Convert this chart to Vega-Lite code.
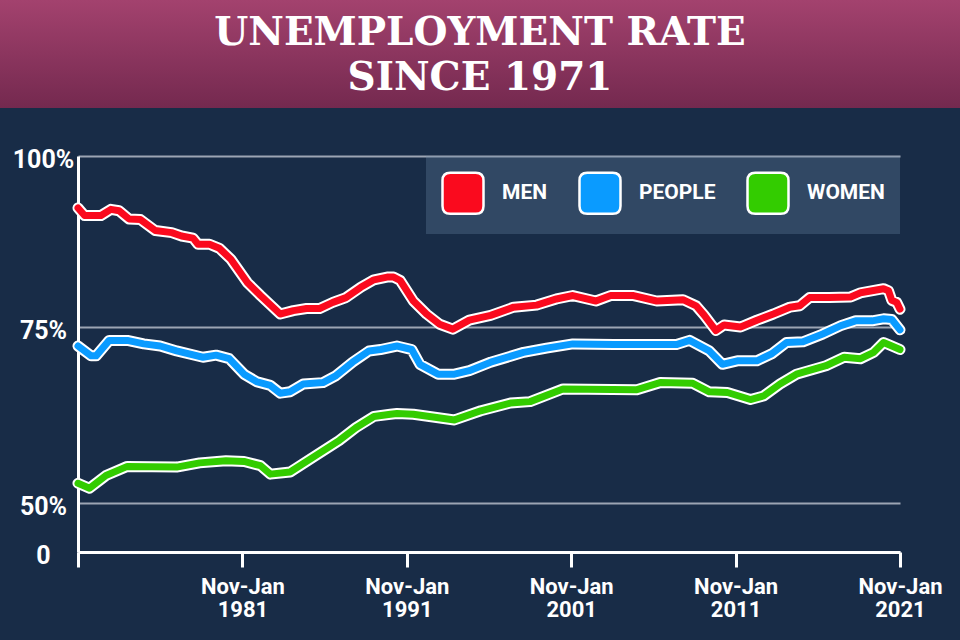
{
  "$schema": "https://vega.github.io/schema/vega-lite/v6.json",
  "background": "#182c47",
  "padding": {"left": 0, "top": 0, "right": 0, "bottom": 30},
  "spacing": 39,
  "resolve": {"scale": {"color": "independent"}, "legend": {"color": "independent"}},
  "config": {"view": {"stroke": null}},
  "vconcat": [
    {
      "width": 960,
      "height": 108,
      "view": {"stroke": null, "fill": {"gradient": "linear", "x1": 0, "y1": 0, "x2": 0, "y2": 1, "stops": [{"offset": 0, "color": "#a3426e"}, {"offset": 1, "color": "#74294f"}]}},
      "data": {"values": [{"t": "UNEMPLOYMENT RATE\nSINCE 1971"}]},
      "mark": {"type": "text", "font": "DejaVu Serif", "fontWeight": "bold", "fontSize": 39, "lineHeight": 45, "lineBreak": "\n", "color": "white", "align": "center", "baseline": "middle", "dy": -21},
      "encoding": {"text": {"field": "t", "type": "nominal"}}
    },
    {
      "width": 900,
      "height": 396,
      "data": {"values": [
        {"year": 1971.0, "rate": 92.4, "series": "MEN"},
        {"year": 1971.4, "rate": 91.3, "series": "MEN"},
        {"year": 1972.4, "rate": 91.3, "series": "MEN"},
        {"year": 1973.0, "rate": 92.2, "series": "MEN"},
        {"year": 1973.5, "rate": 92.0, "series": "MEN"},
        {"year": 1974.1, "rate": 90.8, "series": "MEN"},
        {"year": 1974.8, "rate": 90.7, "series": "MEN"},
        {"year": 1975.7, "rate": 89.1, "series": "MEN"},
        {"year": 1976.7, "rate": 88.8, "series": "MEN"},
        {"year": 1977.3, "rate": 88.3, "series": "MEN"},
        {"year": 1978.0, "rate": 88.0, "series": "MEN"},
        {"year": 1978.3, "rate": 87.1, "series": "MEN"},
        {"year": 1979.0, "rate": 87.1, "series": "MEN"},
        {"year": 1979.6, "rate": 86.5, "series": "MEN"},
        {"year": 1980.3, "rate": 84.9, "series": "MEN"},
        {"year": 1981.3, "rate": 81.5, "series": "MEN"},
        {"year": 1982.1, "rate": 79.6, "series": "MEN"},
        {"year": 1983.3, "rate": 76.9, "series": "MEN"},
        {"year": 1984.1, "rate": 77.4, "series": "MEN"},
        {"year": 1984.9, "rate": 77.7, "series": "MEN"},
        {"year": 1985.7, "rate": 77.7, "series": "MEN"},
        {"year": 1986.5, "rate": 78.6, "series": "MEN"},
        {"year": 1987.3, "rate": 79.3, "series": "MEN"},
        {"year": 1988.2, "rate": 80.8, "series": "MEN"},
        {"year": 1989.0, "rate": 81.9, "series": "MEN"},
        {"year": 1989.8, "rate": 82.3, "series": "MEN"},
        {"year": 1990.2, "rate": 82.3, "series": "MEN"},
        {"year": 1990.6, "rate": 81.8, "series": "MEN"},
        {"year": 1991.4, "rate": 78.8, "series": "MEN"},
        {"year": 1992.2, "rate": 76.9, "series": "MEN"},
        {"year": 1993.0, "rate": 75.4, "series": "MEN"},
        {"year": 1993.8, "rate": 74.7, "series": "MEN"},
        {"year": 1994.8, "rate": 76.0, "series": "MEN"},
        {"year": 1996.1, "rate": 76.7, "series": "MEN"},
        {"year": 1997.5, "rate": 77.9, "series": "MEN"},
        {"year": 1998.9, "rate": 78.2, "series": "MEN"},
        {"year": 2000.1, "rate": 79.1, "series": "MEN"},
        {"year": 2001.1, "rate": 79.6, "series": "MEN"},
        {"year": 2002.5, "rate": 78.8, "series": "MEN"},
        {"year": 2003.4, "rate": 79.6, "series": "MEN"},
        {"year": 2004.8, "rate": 79.6, "series": "MEN"},
        {"year": 2006.2, "rate": 78.8, "series": "MEN"},
        {"year": 2007.8, "rate": 79.0, "series": "MEN"},
        {"year": 2008.6, "rate": 78.1, "series": "MEN"},
        {"year": 2009.1, "rate": 76.7, "series": "MEN"},
        {"year": 2009.8, "rate": 74.5, "series": "MEN"},
        {"year": 2010.3, "rate": 75.3, "series": "MEN"},
        {"year": 2011.3, "rate": 75.0, "series": "MEN"},
        {"year": 2012.3, "rate": 76.0, "series": "MEN"},
        {"year": 2013.3, "rate": 76.9, "series": "MEN"},
        {"year": 2014.3, "rate": 77.9, "series": "MEN"},
        {"year": 2014.9, "rate": 78.1, "series": "MEN"},
        {"year": 2015.5, "rate": 79.3, "series": "MEN"},
        {"year": 2016.7, "rate": 79.3, "series": "MEN"},
        {"year": 2018.0, "rate": 79.4, "series": "MEN"},
        {"year": 2018.6, "rate": 80.0, "series": "MEN"},
        {"year": 2020.0, "rate": 80.6, "series": "MEN"},
        {"year": 2020.3, "rate": 80.3, "series": "MEN"},
        {"year": 2020.5, "rate": 78.9, "series": "MEN"},
        {"year": 2020.8, "rate": 78.6, "series": "MEN"},
        {"year": 2021.0, "rate": 77.6, "series": "MEN"},
        {"year": 1971.0, "rate": 72.3, "series": "PEOPLE"},
        {"year": 1971.8, "rate": 70.9, "series": "PEOPLE"},
        {"year": 1972.1, "rate": 70.9, "series": "PEOPLE"},
        {"year": 1972.9, "rate": 73.1, "series": "PEOPLE"},
        {"year": 1974.0, "rate": 73.1, "series": "PEOPLE"},
        {"year": 1975.0, "rate": 72.6, "series": "PEOPLE"},
        {"year": 1976.0, "rate": 72.3, "series": "PEOPLE"},
        {"year": 1977.0, "rate": 71.6, "series": "PEOPLE"},
        {"year": 1978.6, "rate": 70.7, "series": "PEOPLE"},
        {"year": 1979.4, "rate": 71.0, "series": "PEOPLE"},
        {"year": 1980.2, "rate": 70.5, "series": "PEOPLE"},
        {"year": 1981.1, "rate": 68.3, "series": "PEOPLE"},
        {"year": 1981.9, "rate": 67.2, "series": "PEOPLE"},
        {"year": 1982.7, "rate": 66.7, "series": "PEOPLE"},
        {"year": 1983.3, "rate": 65.6, "series": "PEOPLE"},
        {"year": 1983.9, "rate": 65.8, "series": "PEOPLE"},
        {"year": 1984.7, "rate": 66.9, "series": "PEOPLE"},
        {"year": 1985.9, "rate": 67.1, "series": "PEOPLE"},
        {"year": 1986.7, "rate": 68.1, "series": "PEOPLE"},
        {"year": 1987.7, "rate": 70.0, "series": "PEOPLE"},
        {"year": 1988.7, "rate": 71.6, "series": "PEOPLE"},
        {"year": 1989.4, "rate": 71.8, "series": "PEOPLE"},
        {"year": 1990.4, "rate": 72.3, "series": "PEOPLE"},
        {"year": 1991.3, "rate": 71.8, "series": "PEOPLE"},
        {"year": 1991.8, "rate": 69.7, "series": "PEOPLE"},
        {"year": 1992.9, "rate": 68.3, "series": "PEOPLE"},
        {"year": 1993.9, "rate": 68.3, "series": "PEOPLE"},
        {"year": 1994.8, "rate": 68.8, "series": "PEOPLE"},
        {"year": 1996.1, "rate": 70.0, "series": "PEOPLE"},
        {"year": 1998.1, "rate": 71.4, "series": "PEOPLE"},
        {"year": 1999.5, "rate": 72.0, "series": "PEOPLE"},
        {"year": 2001.1, "rate": 72.6, "series": "PEOPLE"},
        {"year": 2003.6, "rate": 72.5, "series": "PEOPLE"},
        {"year": 2007.4, "rate": 72.5, "series": "PEOPLE"},
        {"year": 2008.2, "rate": 73.1, "series": "PEOPLE"},
        {"year": 2009.4, "rate": 71.6, "series": "PEOPLE"},
        {"year": 2010.2, "rate": 69.7, "series": "PEOPLE"},
        {"year": 2011.1, "rate": 70.2, "series": "PEOPLE"},
        {"year": 2012.3, "rate": 70.2, "series": "PEOPLE"},
        {"year": 2013.2, "rate": 71.2, "series": "PEOPLE"},
        {"year": 2014.1, "rate": 72.8, "series": "PEOPLE"},
        {"year": 2015.1, "rate": 72.9, "series": "PEOPLE"},
        {"year": 2016.3, "rate": 74.0, "series": "PEOPLE"},
        {"year": 2017.4, "rate": 75.2, "series": "PEOPLE"},
        {"year": 2018.3, "rate": 75.9, "series": "PEOPLE"},
        {"year": 2019.3, "rate": 75.9, "series": "PEOPLE"},
        {"year": 2020.0, "rate": 76.2, "series": "PEOPLE"},
        {"year": 2020.5, "rate": 76.1, "series": "PEOPLE"},
        {"year": 2021.0, "rate": 74.6, "series": "PEOPLE"},
        {"year": 1971.0, "rate": 52.8, "series": "WOMEN"},
        {"year": 1971.7, "rate": 52.1, "series": "WOMEN"},
        {"year": 1972.7, "rate": 53.9, "series": "WOMEN"},
        {"year": 1974.0, "rate": 55.2, "series": "WOMEN"},
        {"year": 1977.0, "rate": 55.1, "series": "WOMEN"},
        {"year": 1978.4, "rate": 55.7, "series": "WOMEN"},
        {"year": 1980.0, "rate": 56.0, "series": "WOMEN"},
        {"year": 1981.1, "rate": 55.9, "series": "WOMEN"},
        {"year": 1982.1, "rate": 55.3, "series": "WOMEN"},
        {"year": 1982.7, "rate": 54.1, "series": "WOMEN"},
        {"year": 1983.9, "rate": 54.4, "series": "WOMEN"},
        {"year": 1985.5, "rate": 56.8, "series": "WOMEN"},
        {"year": 1986.9, "rate": 58.9, "series": "WOMEN"},
        {"year": 1987.9, "rate": 60.7, "series": "WOMEN"},
        {"year": 1989.0, "rate": 62.3, "series": "WOMEN"},
        {"year": 1990.0, "rate": 62.6, "series": "WOMEN"},
        {"year": 1990.4, "rate": 62.7, "series": "WOMEN"},
        {"year": 1991.4, "rate": 62.6, "series": "WOMEN"},
        {"year": 1993.9, "rate": 61.8, "series": "WOMEN"},
        {"year": 1995.5, "rate": 63.1, "series": "WOMEN"},
        {"year": 1997.3, "rate": 64.2, "series": "WOMEN"},
        {"year": 1998.5, "rate": 64.4, "series": "WOMEN"},
        {"year": 2000.5, "rate": 66.2, "series": "WOMEN"},
        {"year": 2005.0, "rate": 66.1, "series": "WOMEN"},
        {"year": 2006.4, "rate": 67.1, "series": "WOMEN"},
        {"year": 2008.4, "rate": 67.0, "series": "WOMEN"},
        {"year": 2009.4, "rate": 65.8, "series": "WOMEN"},
        {"year": 2010.5, "rate": 65.7, "series": "WOMEN"},
        {"year": 2011.9, "rate": 64.7, "series": "WOMEN"},
        {"year": 2012.7, "rate": 65.2, "series": "WOMEN"},
        {"year": 2013.7, "rate": 66.9, "series": "WOMEN"},
        {"year": 2014.7, "rate": 68.3, "series": "WOMEN"},
        {"year": 2016.5, "rate": 69.5, "series": "WOMEN"},
        {"year": 2017.6, "rate": 70.7, "series": "WOMEN"},
        {"year": 2018.6, "rate": 70.5, "series": "WOMEN"},
        {"year": 2019.4, "rate": 71.4, "series": "WOMEN"},
        {"year": 2020.0, "rate": 72.8, "series": "WOMEN"},
        {"year": 2020.4, "rate": 72.4, "series": "WOMEN"},
        {"year": 2021.0, "rate": 71.8, "series": "WOMEN"}
      ]},
      "encoding": {
        "x": {
          "field": "year", "type": "quantitative",
          "scale": {"domain": [1971, 2021], "range": [78, 900], "nice": false, "zero": false},
          "axis": {
            "values": [1971, 1981, 1991, 2001, 2011, 2021],
            "labelExpr": "datum.value == 1971 ? '' : ['Nov-Jan', '' + datum.value]",
            "title": null, "grid": false,
            "domainColor": "white", "domainWidth": 3,
            "tickColor": "white", "tickWidth": 3, "tickSize": 15,
            "labelColor": "white", "labelFont": "Roboto", "labelFontWeight": "bold",
            "labelFontSize": 22, "labelLineHeight": 23, "labelPadding": 9,
            "labelFlush": false, "labelOverlap": false
          }
        },
        "y": {
          "field": "rate", "type": "quantitative",
          "scale": {"domain": [0, 50, 75, 100], "range": [396, 347, 171, 0], "nice": false, "zero": false},
          "axis": {
            "values": [0, 50, 75, 100],
            "offset": -78,
            "labelExpr": "datum.value == 0 ? '0' : datum.value + '%'",
            "title": null,
            "domainColor": "white", "domainWidth": 3,
            "ticks": false, "tickSize": 0,
            "grid": true, "gridColor": "#c8ced8", "gridOpacity": 0.75, "gridWidth": 2,
            "labelAlign": "center", "labelBaseline": "middle", "labelPadding": 35, "labelOffset": 3,
            "labelColor": "white", "labelFont": "Roboto", "labelFontWeight": "bold", "labelFontSize": 25
          }
        }
      },
      "layer": [
        {
          "mark": {"type": "line", "color": "white", "strokeWidth": 11, "strokeJoin": "round", "strokeCap": "round"},
          "encoding": {"detail": {"field": "series", "type": "nominal"}}
        },
        {
          "mark": {"type": "point", "filled": true, "opacity": 0},
          "encoding": {
            "color": {
              "field": "series", "type": "nominal",
              "scale": {"domain": ["MEN", "PEOPLE", "WOMEN"], "range": ["#fa0a1e", "#0a9bff", "#33cc00"]},
              "legend": {
                "title": null, "orient": "top-right", "offset": 0, "direction": "horizontal",
                "padding": 15, "fillColor": "rgba(110,140,170,0.3)",
                "symbolType": "M-1,-0.62Q-1,-1,-0.62,-1L0.62,-1Q1,-1,1,-0.62L1,0.62Q1,1,0.62,1L-0.62,1Q-1,1,-1,0.62Z",
                "symbolSize": 1681, "symbolStrokeColor": "white", "symbolStrokeWidth": 2.5, "symbolOpacity": 1,
                "labelColor": "white", "labelFont": "Roboto", "labelFontWeight": "bold",
                "labelFontSize": 21, "labelOffset": 17, "columnPadding": 26, "labelLimit": 300
              }
            }
          }
        },
        {
          "mark": {"type": "line", "strokeWidth": 7, "strokeJoin": "round", "strokeCap": "round"},
          "encoding": {
            "stroke": {
              "field": "series", "type": "nominal",
              "scale": {"domain": ["MEN", "PEOPLE", "WOMEN"], "range": ["#fa0a1e", "#0a9bff", "#33cc00"]},
              "legend": null
            }
          }
        }
      ]
    }
  ]
}
